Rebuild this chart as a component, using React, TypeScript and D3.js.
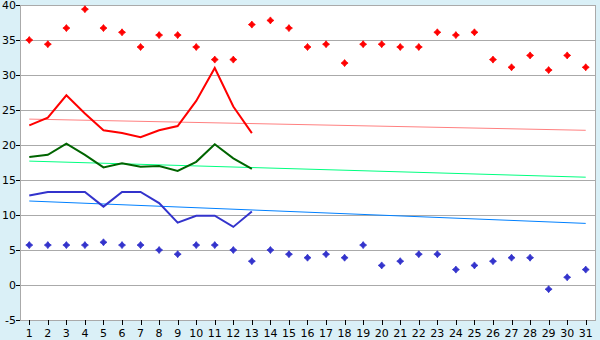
import React from "react";
import * as d3 from "d3";

const days = d3.range(1, 32);
const maxPoints = [35.0, 34.4, 36.7, 39.4, 36.7, 36.1, 34.0, 35.7, 35.7, 34.0, 32.2, 32.2, 37.2, 37.8, 36.7, 34.0, 34.4, 31.7, 34.4, 34.4, 34.0, 34.0, 36.1, 35.7, 36.1, 32.2, 31.1, 32.8, 30.7, 32.8, 31.1];
const minPoints = [5.7, 5.7, 5.7, 5.7, 6.1, 5.7, 5.7, 5.0, 4.4, 5.7, 5.7, 5.0, 3.4, 5.0, 4.4, 3.9, 4.4, 3.9, 5.7, 2.8, 3.4, 4.4, 4.4, 2.2, 2.8, 3.4, 3.9, 3.9, -0.6, 1.1, 2.2];
const maxLine = [22.8, 23.9, 27.1, 24.5, 22.1, 21.7, 21.1, 22.1, 22.7, 26.3, 31.0, 25.5, 21.7];
const meanLine = [18.3, 18.6, 20.2, 18.6, 16.8, 17.4, 16.9, 17.0, 16.3, 17.6, 20.1, 18.1, 16.6];
const minLine = [12.8, 13.3, 13.3, 13.3, 11.2, 13.3, 13.3, 11.7, 8.9, 9.9, 9.9, 8.3, 10.5];
const maxTrend = [23.7, 22.1];
const meanTrend = [17.7, 15.4];
const minTrend = [12.0, 8.8];
const yTicks = [-5, 0, 5, 10, 15, 20, 25, 30, 35, 40];

const W = 600, H = 340;
const L = 20, R = 595, T = 5, B = 320;

export default function App() {
  const x = d3.scaleBand<number>().domain(days).range([L, R]);
  const cx = (d: number) => (x(d) as number) + x.bandwidth() / 2;
  const y = d3.scaleLinear().domain([-5, 40]).range([B, T]);
  const line = d3.line<number>().x((_, i) => cx(days[i])).y((v) => y(v));
  const trend = (t: number[]) => `M${cx(1)},${y(t[0])}L${cx(31)},${y(t[1])}`;
  const marker = "M0,-3.5L1.5,-1.5L3.5,0L1.5,1.5L0,3.5L-1.5,1.5L-3.5,0L-1.5,-1.5Z";
  const font = "'DejaVu Sans', sans-serif";
  return (
    <svg width={W} height={H} style={{ position: "absolute", left: 0, top: 0 }}>
      <rect x={0} y={0} width={W} height={H} fill="#daf0f7" />
      <rect x={L} y={T} width={R - L} height={B - T} fill="#ffffff" />
      {yTicks.map((t) => (
        <g key={t}>
          <line x1={L} x2={R} y1={y(t) + 0.5} y2={y(t) + 0.5} stroke="#aaaaaa" />
          <line x1={L - 4} x2={L} y1={y(t) + 0.5} y2={y(t) + 0.5} stroke="#000" />
          <text x={L - 4} y={y(t) + 4} textAnchor="end" fontFamily={font} fontSize={11} fill="#000">{t}</text>
        </g>
      ))}
      <line x1={L + 0.5} x2={L + 0.5} y1={T} y2={B} stroke="#aaaaaa" />
      <line x1={R + 0.5} x2={R + 0.5} y1={T} y2={B + 1} stroke="#aaaaaa" />
      {days.map((d) => (
        <g key={d}>
          <line x1={Math.round(cx(d)) + 0.5} x2={Math.round(cx(d)) + 0.5} y1={B} y2={B + 5} stroke="#000" />
          <text x={cx(d)} y={B + 17} textAnchor="middle" fontFamily={font} fontSize={11} fill="#000">{d}</text>
        </g>
      ))}
      <path d={trend(maxTrend)} stroke="#ff8080" strokeWidth={1} fill="none" />
      <path d={trend(meanTrend)} stroke="#00ff80" strokeWidth={1} fill="none" />
      <path d={trend(minTrend)} stroke="#0080ff" strokeWidth={1} fill="none" />
      <path d={line(maxLine) as string} stroke="#ff0000" strokeWidth={2} fill="none" />
      <path d={line(meanLine) as string} stroke="#006400" strokeWidth={2} fill="none" />
      <path d={line(minLine) as string} stroke="#3333cc" strokeWidth={2} fill="none" />
      {maxPoints.map((v, i) => (
        <path key={"mx" + i} d={marker} transform={`translate(${cx(days[i])},${y(v)})`} fill="#ff0000" stroke="#ff0000" strokeWidth={0.8} />
      ))}
      {minPoints.map((v, i) => (
        <path key={"mn" + i} d={marker} transform={`translate(${cx(days[i])},${y(v)})`} fill="#3333cc" stroke="#3333cc" strokeWidth={0.8} />
      ))}
    </svg>
  );
}
